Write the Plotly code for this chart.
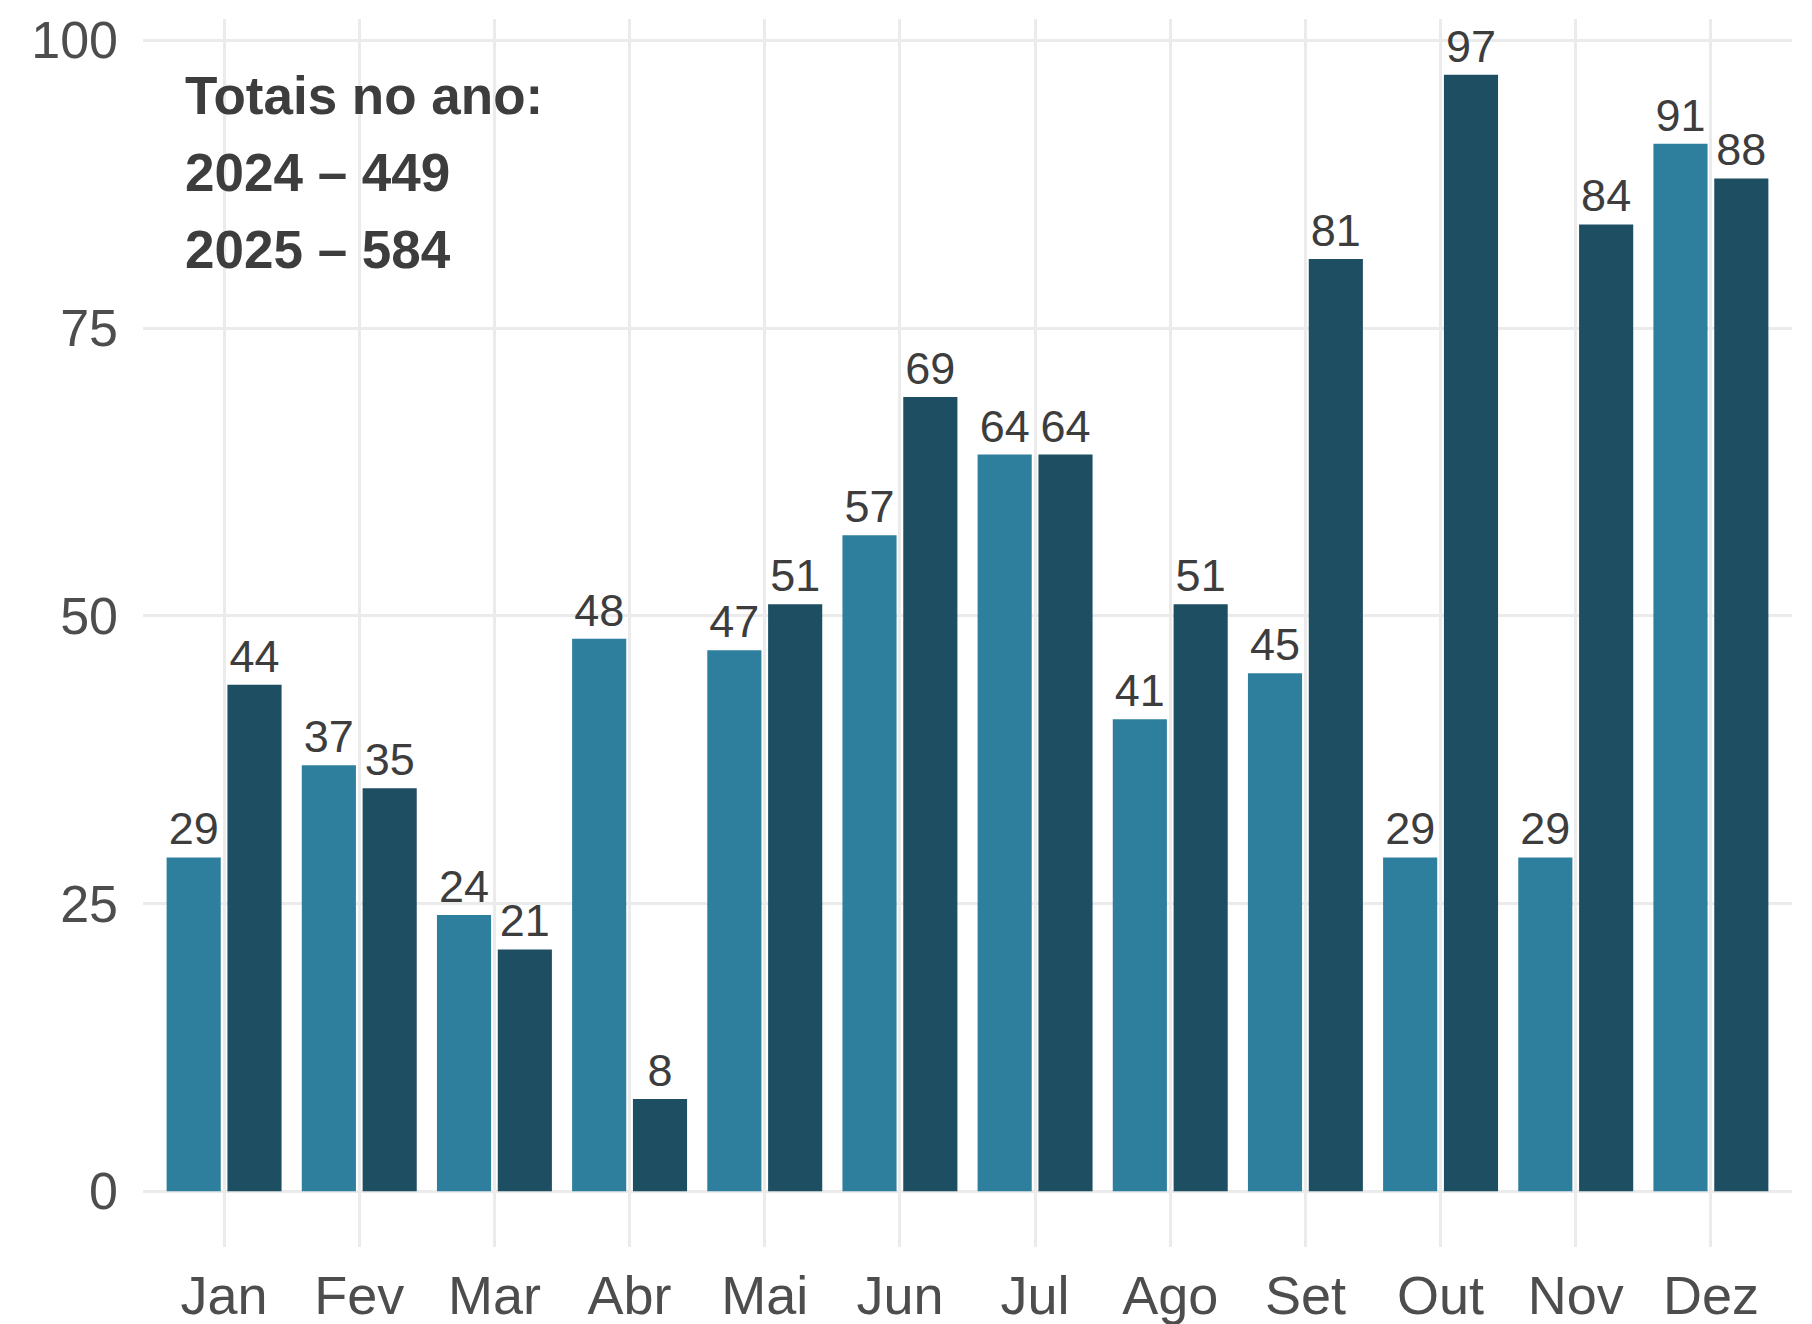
import plotly.graph_objects as go

months = ["Jan", "Fev", "Mar", "Abr", "Mai", "Jun", "Jul", "Ago", "Set", "Out", "Nov", "Dez"]
values_2024 = [29, 37, 24, 48, 47, 57, 64, 41, 45, 29, 29, 91]
values_2025 = [44, 35, 21, 8, 51, 69, 64, 51, 81, 97, 84, 88]
y_ticks = [0, 25, 50, 75, 100]
summary_lines = ["Totais no ano:", "2024 – 449", "2025 – 584"]

FONT = "Liberation Sans, Arial, sans-serif"
LIGHT = "#2E7F9E"
DARK = "#1D4E62"
GRID = "#EBEBEB"

fig = go.Figure()
for name, vals, col in [("2024", values_2024, LIGHT), ("2025", values_2025, DARK)]:
    fig.add_trace(go.Bar(
        x=months, y=vals, name=name,
        marker=dict(color=col, line=dict(width=0)),
        text=[str(v) for v in vals],
        textposition="outside",
        constraintext="none",
        cliponaxis=False,
        textfont=dict(family=FONT, size=45, color="#3D3D3D"),
    ))

ymin, ymax = -4.85, 101.85
line_y = [95.2, 88.5, 81.8]
for txt, yy in zip(summary_lines, line_y):
    fig.add_annotation(
        x=0.024, xref="paper", xanchor="left",
        y=yy, yref="y", yanchor="middle",
        text=f"<b>{txt}</b>", showarrow=False,
        font=dict(family=FONT, size=53, color="#3D3D3D"),
    )

fig.update_layout(
    width=1812, height=1324, autosize=False,
    margin=dict(l=143, r=20, t=19, b=77, autoexpand=False),
    paper_bgcolor="white", plot_bgcolor="white",
    barmode="group", bargap=0.1, bargroupgap=0.11,
    showlegend=False,
    font=dict(family=FONT, color="#4D4D4D"),
)
fig.update_xaxes(
    type="category", range=[-0.6, 11.6], automargin=False,
    showgrid=True, gridcolor=GRID, gridwidth=2.5,
    showline=False, zeroline=False, ticks="",
    tickfont=dict(family=FONT, size=54, color="#4D4D4D"),
    ticklabelstandoff=12,
)
fig.update_yaxes(
    range=[ymin, ymax], tickvals=y_ticks, automargin=False,
    showgrid=True, gridcolor=GRID, gridwidth=2.5,
    showline=False, zeroline=False, ticks="",
    tickfont=dict(family=FONT, size=52, color="#4D4D4D"),
    ticklabelstandoff=24,
)

# remove the default body margin so the figure fills the window exactly
fig.write_html(
    "out.html",
    config={"displayModeBar": False},
    post_script="document.body.style.margin='0';document.body.style.overflow='hidden';",
)
